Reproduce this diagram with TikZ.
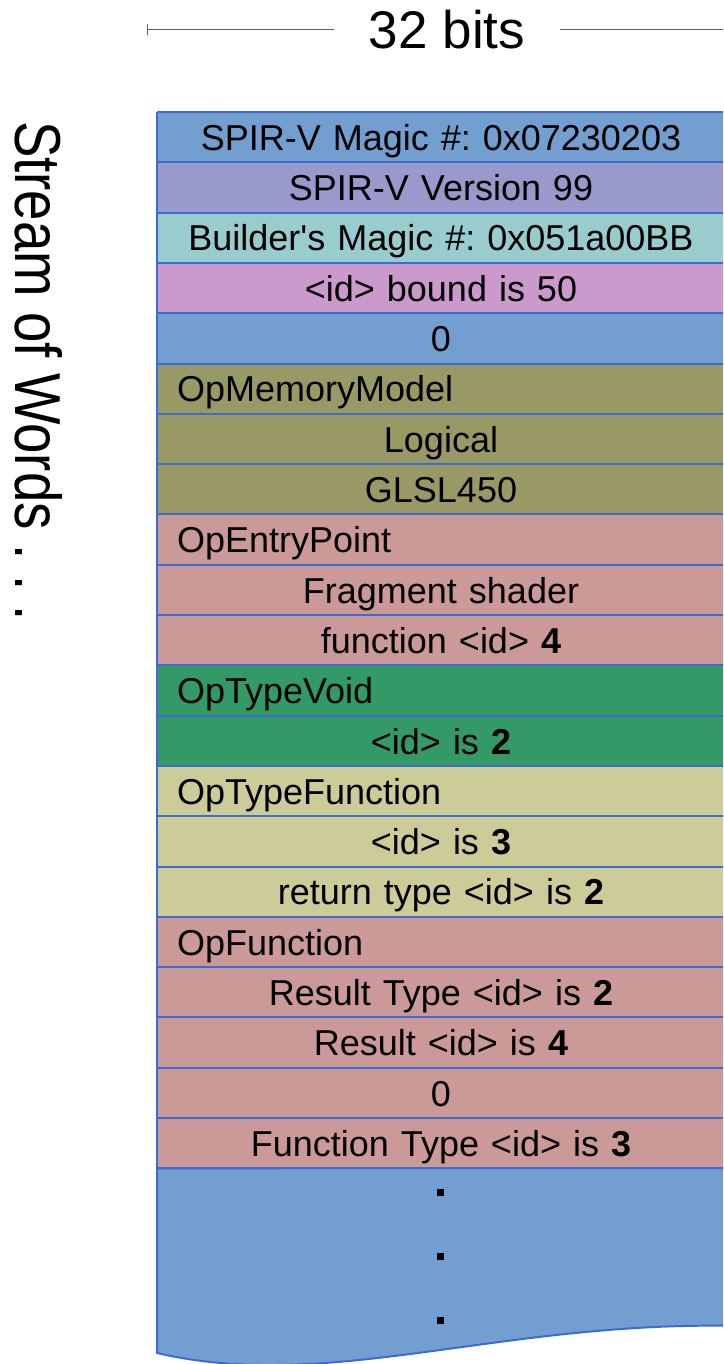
\documentclass[tikz,border=0pt]{standalone}
\usepackage{fontspec}
\setmainfont{Liberation Sans}
\usetikzlibrary{positioning,arrows.meta}
\definecolor{cblue}{HTML}{729FCF}
\definecolor{cpurple}{HTML}{9999CC}
\definecolor{cteal}{HTML}{99CCCC}
\definecolor{cpink}{HTML}{CC99CC}
\definecolor{colive}{HTML}{999966}
\definecolor{crose}{HTML}{CC9999}
\definecolor{cgreen}{HTML}{339966}
\definecolor{ckhaki}{HTML}{CCCC99}
\definecolor{bord}{HTML}{3A6CD2}
\definecolor{dimgray}{HTML}{606060}
\frenchspacing
\begin{document}
\begin{tikzpicture}[x=1pt,y=-1pt,
  wordrow/.style={outer sep=0pt, inner xsep=20pt, inner ysep=0pt,
    text width=528pt, minimum height=50.3pt, text height=26.5pt, text depth=0pt,
    font=\fontsize{36}{43}\selectfont},
  crow/.style={wordrow, align=center},
  lrow/.style={wordrow, align=left},
  bordline/.style={draw=bord, line width=2pt},
  dotsq/.style={fill=black, minimum size=7pt, inner sep=0pt},
  dimline/.style={draw=dimgray, line width=1pt}]
\clip (0,0) rectangle (723,1364);
\useasboundingbox (0,0) rectangle (723,1364);
% header
\node[font=\fontsize{53}{60}\selectfont, inner xsep=35pt, inner ysep=0pt, text height=38pt, text depth=0pt] (bits) at (447,30) {32 bits};
\coordinate (lt) at (147,30);
\coordinate (rt) at (740,30);
\draw[dimline, {Bar[width=11pt,line width=1pt]}-] (lt) -- (bits.west);
\draw[dimline] (bits.east) -- (rt);
% side label
\node[rotate=-90, anchor=base west, inner sep=0pt, font=\fontsize{65}{70}\selectfont] (stream) at (15.5,121) {\scalebox{0.84}[1]{Stream of Words . . .}};
% rows
\node[crow, fill=cblue, anchor=north west] (r1) at (157,112) {SPIR-V Magic \#: 0x07230203};
\node[crow, fill=cpurple, below=0pt of r1] (r2) {SPIR-V Version 99};
\node[crow, fill=cteal, below=0pt of r2] (r3) {Builder\textquotesingle s Magic \#: 0x051a00BB};
\node[crow, fill=cpink, below=0pt of r3] (r4) {<id> bound is 50};
\node[crow, fill=cblue, below=0pt of r4] (r5) {0};
\node[lrow, fill=colive, below=0pt of r5] (r6) {OpMemoryModel};
\node[crow, fill=colive, below=0pt of r6] (r7) {Logical};
\node[crow, fill=colive, below=0pt of r7] (r8) {GLSL450};
\node[lrow, fill=crose, below=0pt of r8] (r9) {OpEntryPoint};
\node[crow, fill=crose, below=0pt of r9] (r10) {Fragment shader};
\node[crow, fill=crose, below=0pt of r10] (r11) {function <id> \textbf{4}};
\node[lrow, fill=cgreen, below=0pt of r11] (r12) {OpTypeVoid};
\node[crow, fill=cgreen, below=0pt of r12] (r13) {<id> is \textbf{2}};
\node[lrow, fill=ckhaki, below=0pt of r13] (r14) {OpTypeFunction};
\node[crow, fill=ckhaki, below=0pt of r14] (r15) {<id> is \textbf{3}};
\node[crow, fill=ckhaki, below=0pt of r15] (r16) {return type <id> is \textbf{2}};
\node[lrow, fill=crose, below=0pt of r16] (r17) {OpFunction};
\node[crow, fill=crose, below=0pt of r17] (r18) {Result Type <id> is \textbf{2}};
\node[crow, fill=crose, below=0pt of r18] (r19) {Result <id> is \textbf{4}};
\node[crow, fill=crose, below=0pt of r19] (r20) {0};
\node[crow, fill=crose, below=0pt of r20] (r21) {Function Type <id> is \textbf{3}};
% continuation block with wavy bottom
\coordinate (wl) at (157,1353);
\coordinate (wr) at (740,1326);
\coordinate (wt) at (740,1168);
\draw[bordline, fill=cblue] (r21.south west) -- (wl)
  .. controls (330,1393) and (500,1320) .. (wr) -- (wt) -- cycle;
% row borders
\foreach \i in {1,...,21} {
  \draw[bordline] (r\i.north west) -- (r\i.north east);
}
\draw[bordline] (r21.south west) -- (r21.south east);
\draw[bordline] (r1.north west) -- (r21.south west);
\node[dotsq] (d1) at (440,1192) {};
\node[dotsq] (d2) at (440,1256) {};
\node[dotsq] (d3) at (440,1320) {};
\end{tikzpicture}
\end{document}
